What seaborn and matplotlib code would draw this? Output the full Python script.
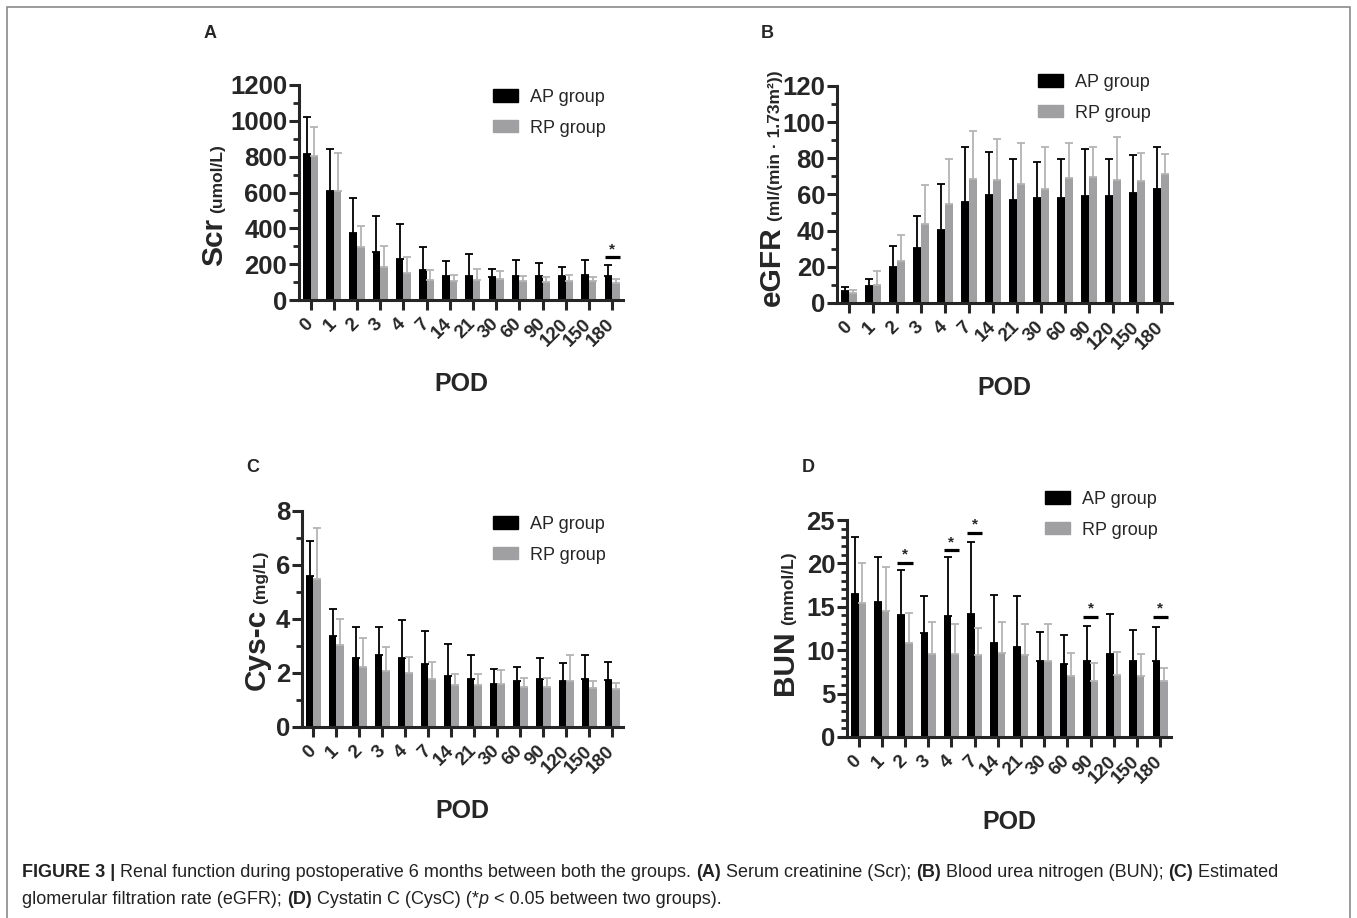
import numpy as np
import pandas as pd
import matplotlib
matplotlib.use('Agg')
import matplotlib.pyplot as plt
import seaborn as sns
from matplotlib.ticker import AutoMinorLocator, MultipleLocator
from matplotlib.patches import Patch, Rectangle

# ---- data ----
pod = ['0', '1', '2', '3', '4', '7', '14', '21', '30', '60', '90', '120', '150', '180']
groups = ['AP group', 'RP group']

scr_ap = [815, 610, 372, 268, 231, 166, 136, 136, 127, 136, 136, 132, 141, 132]
scr_ap_sd = [208, 233, 199, 201, 193, 128, 84, 123, 44, 87, 69, 54, 82, 65]
scr_rp = [806, 610, 294, 184, 151, 110, 104, 113, 117, 104, 100, 106, 104, 95]
scr_rp_sd = [158, 209, 119, 117, 87, 57, 37, 58, 47, 28, 27, 35, 23, 20]
scr_sig = [('180', 238)]

egfr_ap = [6.4, 9.2, 19.9, 30.4, 40.5, 55.8, 59.8, 57.1, 58.3, 57.8, 58.9, 58.9, 60.7, 62.9]
egfr_ap_sd = [2.3, 4.2, 11.4, 17.5, 25.4, 30.3, 23.8, 22.8, 19.9, 21.7, 26.1, 20.6, 21.2, 23.2]
egfr_rp = [5.5, 10.1, 23.0, 43.8, 54.5, 68.7, 68.1, 65.9, 63.1, 69.0, 69.6, 68.1, 67.2, 71.2]
egfr_rp_sd = [1.9, 7.4, 14.4, 21.4, 25.4, 26.6, 22.6, 22.4, 22.9, 19.7, 16.4, 23.9, 16.0, 11.3]

cys_ap = [5.59, 3.38, 2.57, 2.66, 2.57, 2.34, 1.90, 1.77, 1.61, 1.69, 1.77, 1.71, 1.78, 1.75]
cys_ap_sd = [1.29, 0.99, 1.15, 1.03, 1.39, 1.23, 1.19, 0.91, 0.54, 0.55, 0.78, 0.65, 0.89, 0.67]
cys_rp = [5.49, 3.03, 2.24, 2.07, 2.01, 1.77, 1.56, 1.56, 1.61, 1.48, 1.48, 1.71, 1.45, 1.40]
cys_rp_sd = [1.87, 0.96, 1.07, 0.91, 0.60, 0.63, 0.41, 0.41, 0.51, 0.33, 0.33, 0.94, 0.24, 0.22]

bun_ap = [16.5, 15.5, 14.1, 12.0, 13.9, 14.2, 10.8, 10.4, 8.7, 8.4, 8.8, 9.6, 8.7, 8.7]
bun_ap_sd = [6.5, 5.2, 5.1, 4.2, 6.8, 8.3, 5.6, 5.8, 3.4, 3.3, 4.0, 4.6, 3.6, 4.0]
bun_rp = [15.4, 14.5, 10.8, 9.6, 9.6, 9.5, 9.7, 9.5, 8.8, 7.0, 6.5, 7.1, 7.0, 6.5]
bun_rp_sd = [4.6, 5.1, 3.5, 3.7, 3.4, 3.1, 3.6, 3.5, 4.2, 2.7, 2.0, 2.7, 2.6, 1.4]
bun_sig = [('2', 20.1), ('4', 21.5), ('7', 23.5), ('90', 13.8), ('180', 13.8)]

AP_COLOR = '#000000'
RP_COLOR = '#a0a0a3'
RP_ERR = '#b4b4b6'

sns.set_style('ticks')
plt.rcParams['font.family'] = ['Liberation Sans', 'DejaVu Sans']

W, H = 1357, 918
fig = plt.figure(figsize=(W / 100, H / 100), dpi=100)
renderer = fig.canvas.get_renderer()


def fig_box(x0, y0, x1, y1):
    return [x0 / W, 1 - y1 / H, (x1 - x0) / W, (y1 - y0) / H]


def stacked_ylabel(xb, yc, big, small, big_size=21.5, small_size=12.5, gap=5):
    # big bold name with smaller unit above it, both rotated
    kw = dict(rotation=90, rotation_mode='anchor', ha='left', va='baseline', fontweight='bold')
    t1 = fig.text(0, 0, big, fontsize=big_size, **kw)
    t2 = fig.text(0, 0, small, fontsize=small_size, **kw)
    l1 = t1.get_window_extent(renderer).height
    l2 = t2.get_window_extent(renderer).height
    y0 = yc + (l1 + gap + l2) / 2
    t1.set_position((xb / W, 1 - y0 / H))
    t2.set_position((xb / W, 1 - (y0 - l1 - gap) / H))


def draw_panel(box, ap, ap_sd, rp, rp_sd, ymax, step, nminor, legend_xy, sig=()):
    ax = fig.add_axes(box)
    df = pd.DataFrame({
        'POD': pod * 2,
        'group': [groups[0]] * len(pod) + [groups[1]] * len(pod),
        'value': ap + rp,
    })
    sns.barplot(data=df, x='POD', y='value', hue='group', order=pod, hue_order=groups,
                palette=[AP_COLOR, RP_COLOR], saturation=1, width=0.65, errorbar=None,
                linewidth=0, ax=ax)

    # one-sided SD bars on top of each bar
    for cont, sd, col in zip(ax.containers, [ap_sd, rp_sd], [AP_COLOR, RP_ERR]):
        xs = [b.get_x() + b.get_width() / 2 for b in cont]
        hs = [b.get_height() for b in cont]
        ax.errorbar(xs, hs, yerr=[np.zeros(len(sd)), sd], fmt='none', ecolor=col,
                    elinewidth=1.3, capsize=3, capthick=1.3)

    # significance marks
    for p, yv in sig:
        i = pod.index(p)
        b0 = ax.containers[0][i]
        b1 = ax.containers[1][i]
        x0, x1 = b0.get_x(), b1.get_x() + b1.get_width()
        ax.plot([x0, x1], [yv, yv], color='black', lw=2.3, solid_capstyle='butt')
        ax.annotate('*', xy=((x0 + x1) / 2, yv), xytext=(0, 1), textcoords='offset points',
                    ha='center', va='bottom', fontsize=11, fontweight='bold')

    ax.set_ylim(0, ymax)
    ax.set_xlim(-0.5, len(pod) - 0.53)
    ax.yaxis.set_major_locator(MultipleLocator(step))
    ax.yaxis.set_minor_locator(AutoMinorLocator(nminor))
    sns.despine(ax=ax)
    for s in ['left', 'bottom']:
        ax.spines[s].set_linewidth(2.2)
    ax.tick_params(axis='y', which='major', length=7, width=2.2, labelsize=18.5, pad=1.5)
    ax.tick_params(axis='y', which='minor', length=4, width=2.0)
    ax.tick_params(axis='x', length=7, width=2.2, labelsize=13.5, pad=8.5)
    for lab in ax.get_yticklabels():
        lab.set_fontweight('bold')
    for lab in ax.get_xticklabels():
        lab.set_fontweight('bold')
        lab.set_rotation(45)
        lab.set_ha('right')
        lab.set_va('center')
        lab.set_rotation_mode('anchor')

    ax.set_ylabel('')
    ax.set_xlabel('POD', fontsize=18, fontweight='bold')
    ax.xaxis.set_label_coords(0.5, -0.335)

    lx, ly = legend_xy
    ax.legend(handles=[Patch(color=AP_COLOR), Patch(color=RP_COLOR)], labels=groups,
              loc='upper left', bbox_to_anchor=(lx / W, 1 - ly / H),
              bbox_transform=fig.transFigure, frameon=False, fontsize=13,
              handlelength=1.4, handleheight=0.68, handletextpad=0.65,
              labelspacing=0.75, borderpad=0, borderaxespad=0)
    return ax


draw_panel(fig_box(299, 85, 623, 300), scr_ap, scr_ap_sd, scr_rp, scr_rp_sd,
           1200, 200, 2, (493, 89), scr_sig)
draw_panel(fig_box(837, 86, 1172, 303), egfr_ap, egfr_ap_sd, egfr_rp, egfr_rp_sd,
           120, 20, 2, (1038, 74))
draw_panel(fig_box(302, 511, 623, 727), cys_ap, cys_ap_sd, cys_rp, cys_rp_sd,
           8, 2, 2, (493, 516))
draw_panel(fig_box(847, 520, 1171, 737), bun_ap, bun_ap_sd, bun_rp, bun_rp_sd,
           25, 5, 5, (1045, 491), bun_sig)

stacked_ylabel(222, 205, 'Scr', '(umol/L)')
stacked_ylabel(780, 188, 'eGFR', '(ml/(min · 1.73m²))')
stacked_ylabel(265, 620, 'Cys-c', '(mg/L)')
stacked_ylabel(793, 623, 'BUN', '(mmol/L)')

# panel letters
for letter, (x, y) in zip('ABCD', [(210, 33), (767, 33), (253, 467), (808, 467)]):
    fig.text(x / W, 1 - y / H, letter, ha='center', va='center', fontsize=13, fontweight='bold')

# outer frame
fig.patches.append(Rectangle((7 / W, -0.05), 1343 / W, 1.05 - 7 / H, transform=fig.transFigure,
                             fill=False, edgecolor='#8a8a8a', lw=1.2))


# caption, built from runs of plain / bold / italic text
def draw_runs(runs, x, y, size):
    items = []
    for txt, style in runs:
        kw = {'fontweight': 'bold'} if style == 'b' else ({'fontstyle': 'italic'} if style == 'i' else {})
        t = fig.text(x / W, 1 - y / H, txt, fontsize=size, va='baseline', ha='left', color='#222222', **kw)
        w = t.get_window_extent(renderer).width
        x += w
        items.append(t)
    return x, items


line1 = [('FIGURE 3 | ', 'b'),
         ('Renal function during postoperative 6 months between both the groups. ', ''),
         ('(A)', 'b'), (' Serum creatinine (Scr); ', ''), ('(B)', 'b'),
         (' Blood urea nitrogen (BUN); ', ''), ('(C)', 'b'), (' Estimated', '')]
line2 = [('glomerular filtration rate (eGFR); ', ''), ('(D)', 'b'),
         (' Cystatin C (CysC) (*', ''), ('p', 'i'), (' < 0.05 between two groups).', '')]

x_end, tmp = draw_runs(line1, 22, 877, 11)
for t in tmp:
    t.remove()
cap_size = 11 * (1278 - 22) / (x_end - 22)
draw_runs(line1, 22, 877, cap_size)
draw_runs(line2, 22, 904, cap_size)

fig.savefig('out.png', dpi=100)
